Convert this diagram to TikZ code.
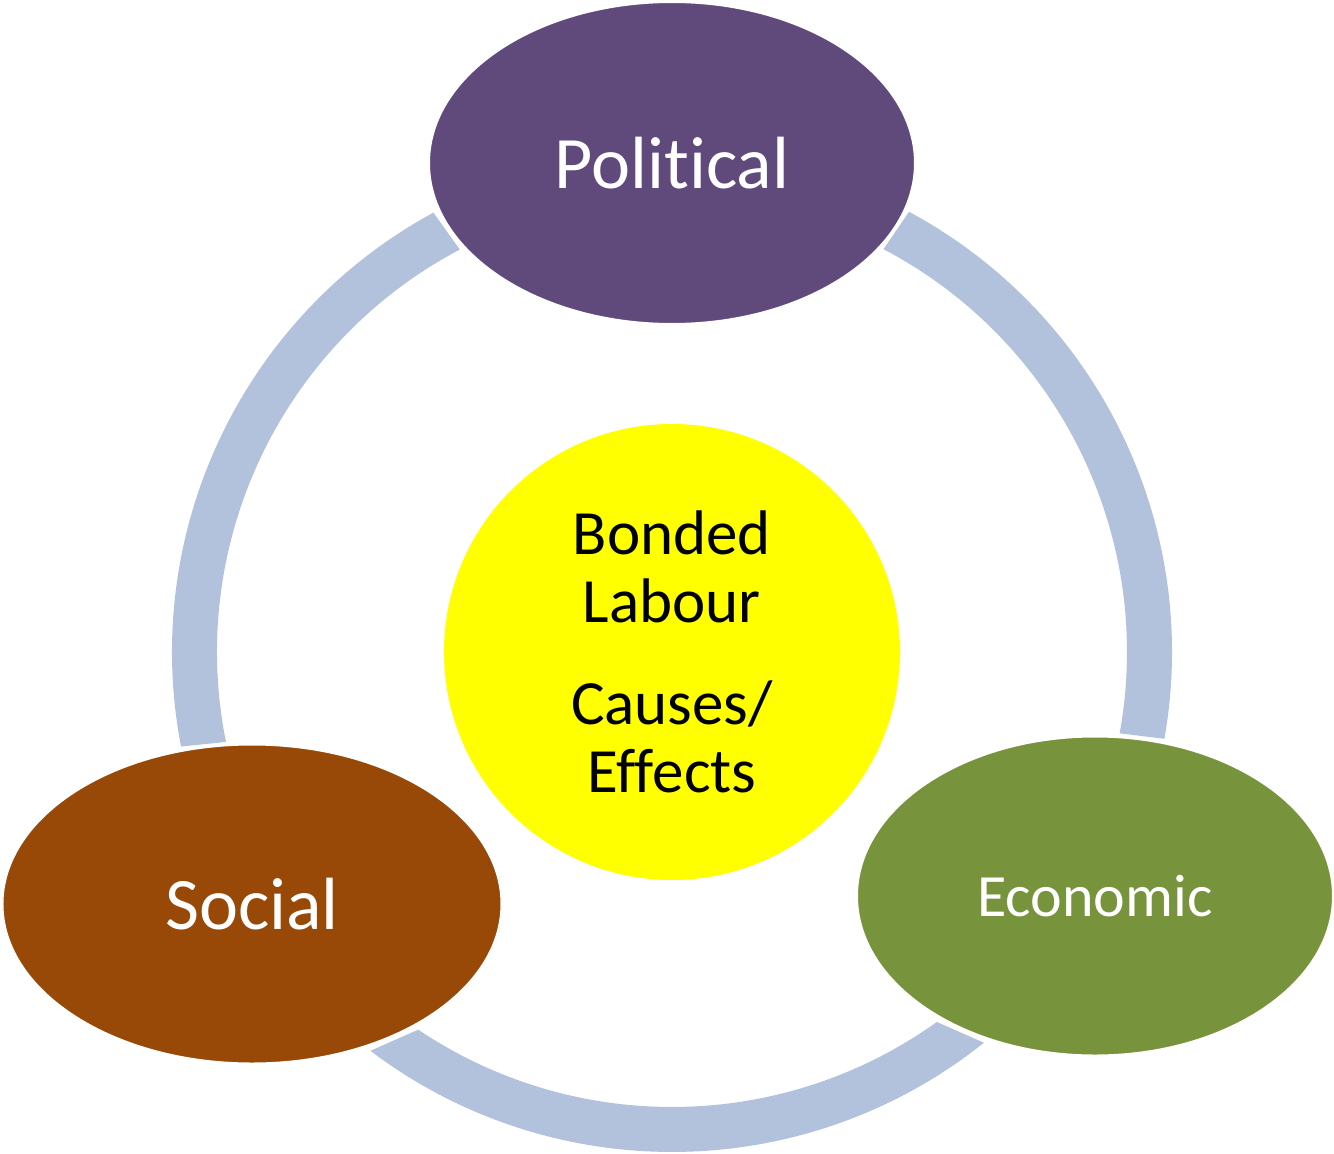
\documentclass[tikz,border=0pt]{standalone}
\usepackage{fontspec}
\setmainfont{Carlito}[Ligatures=NoCommon]
\usetikzlibrary{shapes.geometric}
\definecolor{ringblue}{HTML}{B2C1DC}
\definecolor{polpurple}{HTML}{604A7B}
\definecolor{socbrown}{HTML}{984807}
\definecolor{ecogreen}{HTML}{77933C}
\definecolor{coreyellow}{RGB}{255,255,0}
\tikzset{
  topic/.style={ellipse, draw=white, line width=1.5pt, text=white, inner sep=0pt},
  ringpart/.style={fill=ringblue},
}
\begin{document}
\begin{tikzpicture}[x=0.5pt,y=0.5pt]
      \useasboundingbox (-672,-501) rectangle (662,652);
      % ring pieces between the ellipses
      \fill[ringpart] (118.5:500) arc[start angle=118.5, end angle=190.9, radius=500]
        -- (191.4:455) arc[start angle=191.4, end angle=117.8, radius=455] -- cycle;
      \fill[ringpart] (61.7:500) arc[start angle=61.7, end angle=-10.0, radius=500]
        -- (-10.3:455) arc[start angle=-10.3, end angle=62.3, radius=455] -- cycle;
      \fill[ringpart] (232.9:500) arc[start angle=232.9, end angle=308.6, radius=500]
        -- (305.6:455) arc[start angle=305.6, end angle=236.1, radius=455] -- cycle;
      % centre and topics
      \node[circle, fill=coreyellow, minimum size=228pt, inner sep=0pt, align=center,
        font=\fontsize{31.5}{34}\selectfont] (centre) at (0,0)
        {Bonded\\Labour\\[17pt]Causes/\\Effects};
      \node[topic, fill=polpurple, minimum width=243.5pt, minimum height=161.5pt,
        font=\fontsize{37}{40}\selectfont] (political) at (0,489) {Political};
      \node[topic, fill=socbrown, minimum width=250pt, minimum height=160pt,
        font=\fontsize{37}{40}\selectfont] (social) at (-420,-252) {Social};
      \node[topic, fill=ecogreen, minimum width=238.5pt, minimum height=160pt,
        font=\fontsize{30}{33}\selectfont] (economic) at (423,-244) {Economic};
    \end{tikzpicture}
\end{document}
